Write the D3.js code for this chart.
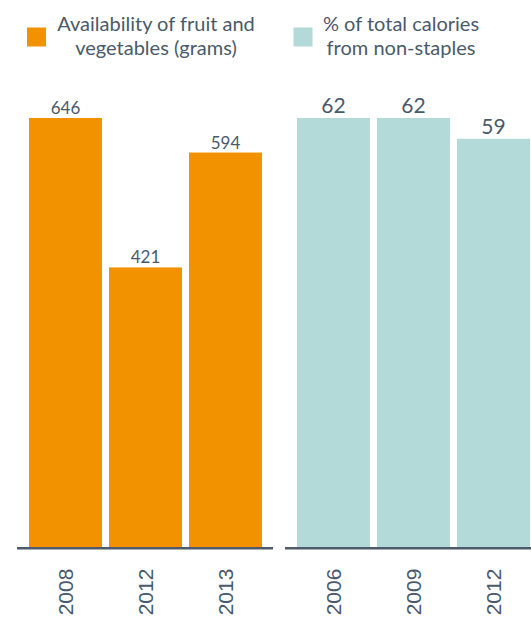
<!DOCTYPE html>
<html>
<head>
<meta charset="utf-8">
<script src="https://cdn.jsdelivr.net/npm/d3@7"></script>
<style>
  html, body { margin: 0; padding: 0; background: #ffffff; }
  svg { display: block; }
</style>
</head>
<body>
<script>
// Fruit and vegetable availability (grams) by year
const fruitYears = ["2008", "2012", "2013"];
const fruitGrams = [646, 421, 594];

// Share of total calories from non-staple foods (%) by year
const calYears = ["2006", "2009", "2012"];
const calShare = [62, 62, 59];

const legendLabels = [
  ["Availability of fruit and", "vegetables (grams)"],
  ["% of total calories", "from non-staples"]
];

const W = 531, H = 621;
const ORANGE = "#f39200";
const TEAL = "#b3d9d9";
const INK = "#4a5a6b";
const AXIS = "#4d5b6a";
const FONT = "Lato, 'Open Sans', sans-serif";

const svg = d3.select("body").append("svg")
  .attr("width", W).attr("height", H);

const baseY = 547, topY = 118;

const panels = [
  { years: fruitYears, values: fruitGrams, color: ORANGE, range: [25.5, 265.5],
    line: [17, 273], labelSize: 17, labelGap: 4 },
  { years: calYears, values: calShare, color: TEAL, range: [293.5, 533.5],
    line: [285, 540], labelSize: 21, labelGap: 5 }
];

panels.forEach(p => {
  const x = d3.scaleBand().domain(p.years).range(p.range)
    .paddingInner(0.0875).paddingOuter(0.04375);
  const y = d3.scaleLinear().domain([0, d3.max(p.values)]).range([baseY, topY]);
  const rows = p.years.map((yr, i) => ({ yr, v: p.values[i] }));

  const g = svg.append("g");
  g.selectAll("rect").data(rows).join("rect")
    .attr("x", d => x(d.yr))
    .attr("y", d => y(d.v))
    .attr("width", x.bandwidth())
    .attr("height", d => y(0) - y(d.v))
    .attr("fill", p.color);

  g.selectAll("text.val").data(rows).join("text")
    .attr("class", "val")
    .attr("x", d => x(d.yr) + x.bandwidth() / 2)
    .attr("y", d => y(d.v) - p.labelGap)
    .attr("text-anchor", "middle")
    .attr("font-family", FONT)
    .attr("font-size", p.labelSize)
    .attr("fill", INK)
    .text(d => d.v);

  // category axis with vertical year labels
  const ax = svg.append("g")
    .attr("transform", `translate(0,${baseY})`)
    .call(d3.axisBottom(x).tickSize(0));
  ax.select(".domain").remove();
  ax.selectAll("text")
    .attr("transform", "rotate(-90)")
    .attr("x", -45)
    .attr("y", 0)
    .attr("dy", "0.35em")
    .attr("text-anchor", "middle")
    .attr("font-family", "'Liberation Sans', Arial, sans-serif")
    .attr("font-size", 21)
    .attr("fill", INK);

  svg.append("line")
    .attr("x1", p.line[0]).attr("x2", p.line[1])
    .attr("y1", baseY + 1.25).attr("y2", baseY + 1.25)
    .attr("stroke", AXIS).attr("stroke-width", 2.5);
});

// legend
const legendItems = [
  { color: ORANGE, sq: 27, cx: 156, lines: legendLabels[0] },
  { color: TEAL, sq: 293.5, cx: 401, lines: legendLabels[1] }
];
legendItems.forEach(it => {
  svg.append("rect")
    .attr("x", it.sq).attr("y", 27.5)
    .attr("width", 19).attr("height", 19)
    .attr("fill", it.color);
  it.lines.forEach((t, i) => {
    svg.append("text")
      .attr("x", it.cx).attr("y", 31 + i * 24)
      .attr("text-anchor", "middle")
      .attr("font-family", FONT)
      .attr("font-size", 20)
      .attr("fill", INK)
      .text(t);
  });
});
</script>
</body>
</html>
